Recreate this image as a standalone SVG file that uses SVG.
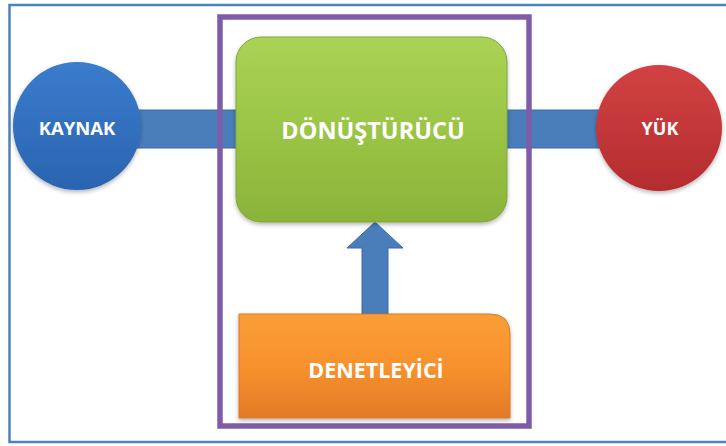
<svg xmlns="http://www.w3.org/2000/svg" width="726" height="446" viewBox="0 0 726 446">
<defs>
<linearGradient id="gGreen" x1="0" y1="0" x2="0" y2="1">
<stop offset="0" stop-color="#aad356"/><stop offset="0.5" stop-color="#9bc545"/><stop offset="1" stop-color="#8ab33a"/>
</linearGradient>
<linearGradient id="gOrange" x1="0" y1="0" x2="0" y2="1">
<stop offset="0" stop-color="#fb9e36"/><stop offset="0.5" stop-color="#f7922d"/><stop offset="1" stop-color="#e27a26"/>
</linearGradient>
<linearGradient id="gBlue" x1="0" y1="0" x2="0" y2="1">
<stop offset="0" stop-color="#3a7ccc"/><stop offset="1" stop-color="#2a64b0"/>
</linearGradient>
<linearGradient id="gRed" x1="0" y1="0" x2="0" y2="1">
<stop offset="0" stop-color="#d24244"/><stop offset="1" stop-color="#b42c2e"/>
</linearGradient>
<filter id="sh" x="-20%" y="-20%" width="140%" height="140%">
<feDropShadow dx="0" dy="2" stdDeviation="2" flood-color="#000" flood-opacity="0.3"/>
</filter>
</defs>
<style>
.lbl{font-family:"Open Sans","Liberation Sans",sans-serif;font-weight:700;fill:#ffffff;text-anchor:middle}
.conn{fill:#4a7ebb;stroke:#3c6aa5;stroke-width:1}
</style>
<rect x="0" y="0" width="726" height="446" fill="#ffffff"/>
<rect x="9.5" y="5" width="730" height="437" fill="none" stroke="#4f81bd" stroke-width="2.5"/>
<g id="connectors">
<rect class="conn" x="130" y="110" width="110" height="38"/>
<rect class="conn" x="503" y="110" width="110" height="38"/>
<path class="conn" d="M362,314 V248 H347 L375,222 L403,248 H388 V314 Z"/>
</g>
<g id="frame">
<rect x="220" y="17" width="309" height="409" fill="none" stroke="#7e5ca8" stroke-width="5.5"/>
</g>
<g id="kaynak">
<circle cx="77" cy="126" r="64" fill="url(#gBlue)" filter="url(#sh)"/>
<text class="lbl" x="77" y="135" font-size="18.5">KAYNAK</text>
</g>
<g id="yuk">
<circle cx="659" cy="128" r="63" fill="url(#gRed)" filter="url(#sh)"/>
<text class="lbl" x="660" y="135" font-size="18">YÜK</text>
</g>
<g id="donusturucu">
<rect x="236" y="37" width="271" height="185" rx="25" ry="25" fill="url(#gGreen)" stroke="#7fa83a" stroke-width="1" filter="url(#sh)"/>
<text class="lbl" x="373" y="139" font-size="23.5">DÖNÜŞTÜRÜCÜ</text>
</g>
<g id="denetleyici">
<path d="M239,314 H490 Q510,314 510,334 V418 H239 Z" fill="url(#gOrange)" stroke="#d9782a" stroke-width="1" filter="url(#sh)"/>
<text class="lbl" x="376" y="378" font-size="21.5">DENETLEYİCİ</text>
</g>
</svg>
